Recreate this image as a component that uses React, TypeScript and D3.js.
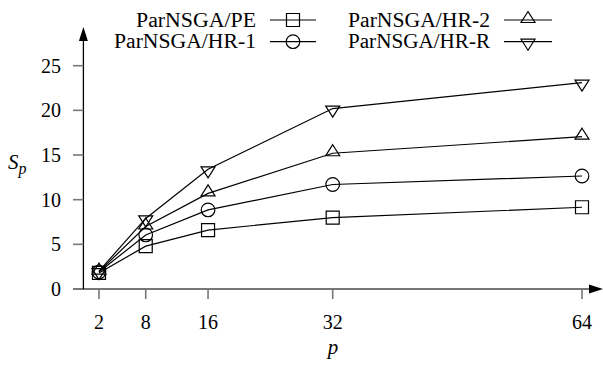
import React from "react";
import * as d3 from "d3";

const procs = [2, 8, 16, 32, 64];
const xTicks = [2, 8, 16, 32, 64];
const yTicks = [0, 5, 10, 15, 20, 25];
const seriesNames = ["ParNSGA/PE", "ParNSGA/HR-1", "ParNSGA/HR-2", "ParNSGA/HR-R"];
const pe = [1.8, 4.8, 6.6, 8.0, 9.15];
const hr1 = [1.9, 6.05, 8.85, 11.7, 12.65];
const hr2 = [1.95, 7.0, 10.7, 15.2, 17.05];
const hrR = [2.0, 7.9, 13.4, 20.2, 23.1];
const seriesValues = [pe, hr1, hr2, hrR];
const markerTypes = ["square", "circle", "triUp", "triDown"];

const W = 603;
const H = 365;
const FONT = "'Liberation Serif', 'Nimbus Roman', 'DejaVu Serif Condensed', 'DejaVu Serif', serif";

function markerPath(type: string): string {
  const p = d3.path();
  if (type === "square") {
    p.rect(-6.5, -6.5, 13, 13);
  } else if (type === "circle") {
    p.arc(0, 0, 6.8, 0, Math.PI * 2);
    p.closePath();
  } else if (type === "triUp") {
    p.moveTo(0, -8.5);
    p.lineTo(7, 2.5);
    p.lineTo(-7, 2.5);
    p.closePath();
  } else {
    p.moveTo(0, 8.5);
    p.lineTo(7, -2.5);
    p.lineTo(-7, -2.5);
    p.closePath();
  }
  return p.toString();
}

export default function App() {
  const x = d3.scaleLinear().domain([0, 64]).range([83.4, 582]);
  const y = d3.scaleLinear().domain([0, 25]).range([289, 65.7]);
  const line = d3
    .line<number>()
    .x((_, i) => x(procs[i]))
    .y((d) => y(d));

  const legendPos = [
    { tx: 256, lx0: 270, lx1: 316, ly: 20 },
    { tx: 256, lx0: 270, lx1: 316, ly: 41.7 },
    { tx: 490, lx0: 504, lx1: 552, ly: 20 },
    { tx: 490, lx0: 504, lx1: 552, ly: 41.7 },
  ];
  const legendWidths = [120, 142, 142, 142];

  const x0 = x(0);
  const y0 = y(0);
  const textStyle = { fontFamily: FONT };

  return (
    <svg
      width={W}
      height={H}
      style={{ position: "absolute", left: 0, top: 0, background: "#fff", fontFamily: FONT }}
    >
      <rect width={W} height={H} fill="#fff" />
      {/* x axis */}
      <line x1={73} x2={590} y1={y0} y2={y0} stroke="#777" strokeWidth={2} />
      <path d={`M603,${y0} L589,${y0 - 4.5} L589,${y0 + 4.5} Z`} fill="#000" />
      {/* y axis */}
      <line x1={x0} x2={x0} y1={y0} y2={40} stroke="#000" strokeWidth={1.3} />
      <path d={`M${x0},27 L${x0 - 4.5},41 L${x0 + 4.5},41 Z`} fill="#000" />
      {/* y ticks */}
      {yTicks.map((t) => (
        <g key={"y" + t}>
          {t > 0 && (
            <line x1={73} x2={x0} y1={y(t)} y2={y(t)} stroke="#777" strokeWidth={1.6} />
          )}
          <text x={61} y={y(t) + 7} textAnchor="end" fontSize={20} style={textStyle}>
            {t}
          </text>
        </g>
      ))}
      {/* x ticks */}
      {xTicks.map((t) => (
        <g key={"x" + t}>
          <line x1={x(t)} x2={x(t)} y1={y0} y2={y0 + 10} stroke="#777" strokeWidth={1.6} />
          <text x={x(t)} y={329} textAnchor="middle" fontSize={20} style={textStyle}>
            {t}
          </text>
        </g>
      ))}
      {/* axis labels */}
      <text x={8} y={169} fontSize={21} fontStyle="italic" style={textStyle}>
        S
        <tspan fontSize={16} dy={5}>
          p
        </tspan>
      </text>
      <text x={333} y={354} textAnchor="middle" fontSize={21} fontStyle="italic" style={textStyle}>
        p
      </text>
      {/* series */}
      {seriesValues.map((vals, si) => (
        <g key={"s" + si}>
          <path d={line(vals) || ""} fill="none" stroke="#000" strokeWidth={1.2} />
          {vals.map((v, i) => (
            <path
              key={i}
              d={markerPath(markerTypes[si])}
              transform={`translate(${x(procs[i])},${y(v)})`}
              fill="none"
              stroke="#000"
              strokeWidth={1.2}
            />
          ))}
        </g>
      ))}
      {/* legend */}
      {seriesNames.map((name, si) => {
        const lp = legendPos[si];
        const cx = (lp.lx0 + lp.lx1) / 2;
        return (
          <g key={"l" + si}>
            <text
              x={lp.tx}
              y={lp.ly + 6.5}
              textAnchor="end"
              fontSize={20}
              textLength={legendWidths[si]}
              lengthAdjust="spacingAndGlyphs"
              style={textStyle}
            >
              {name}
            </text>
            <line x1={lp.lx0} x2={lp.lx1} y1={lp.ly} y2={lp.ly} stroke="#000" strokeWidth={1.2} />
            <path
              d={markerPath(markerTypes[si])}
              transform={`translate(${cx},${lp.ly})`}
              fill="none"
              stroke="#000"
              strokeWidth={1.2}
            />
          </g>
        );
      })}
    </svg>
  );
}
